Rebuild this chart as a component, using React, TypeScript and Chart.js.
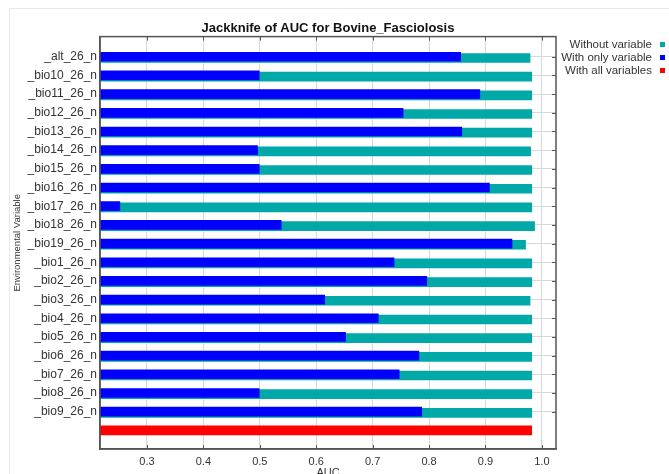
import React, { useEffect, useRef } from "react";
import { Chart, registerables } from "chart.js";

Chart.register(...registerables);

const categories = [
  "_alt_26_n", "_bio10_26_n", "_bio11_26_n", "_bio12_26_n", "_bio13_26_n",
  "_bio14_26_n", "_bio15_26_n", "_bio16_26_n", "_bio17_26_n", "_bio18_26_n",
  "_bio19_26_n", "_bio1_26_n", "_bio2_26_n", "_bio3_26_n", "_bio4_26_n",
  "_bio5_26_n", "_bio6_26_n", "_bio7_26_n", "_bio8_26_n", "_bio9_26_n",
];
const withoutVariable = [
  0.979, 0.982, 0.982, 0.982, 0.982, 0.980, 0.982, 0.982, 0.982, 0.987,
  0.971, 0.982, 0.982, 0.979, 0.982, 0.982, 0.982, 0.982, 0.982, 0.982,
];
const withOnlyVariable = [
  0.856, 0.499, 0.890, 0.754, 0.858, 0.496, 0.499, 0.907, 0.252, 0.538,
  0.947, 0.738, 0.796, 0.615, 0.710, 0.652, 0.782, 0.747, 0.499, 0.787,
];
const withAllVariables = 0.982;
const xTicks = [0.3, 0.4, 0.5, 0.6, 0.7, 0.8, 0.9, 1.0];
const legendItems = [
  { label: "Without variable", color: "#00A8A8" },
  { label: "With only variable", color: "#0000FF" },
  { label: "With all variables", color: "#FF0000" },
];

const FONT = "'Liberation Sans', Arial, sans-serif";

export default function App() {
  const ref = useRef<HTMLCanvasElement | null>(null);
  useEffect(() => {
    if (!ref.current) return;
    const shiftPlugin = {
      id: "shift",
      beforeDatasetDraw(chart: any, args: any) {
        chart.ctx.save();
        if (args.index === 2) chart.ctx.translate(0, 1.2);
      },
      afterDatasetDraw(chart: any) {
        chart.ctx.restore();
      },
    };
    const decor = {
      id: "decor",
      afterDraw(chart: any) {
        const { ctx, chartArea } = chart;
        const { left, right, top, bottom } = chartArea;
        ctx.save();
        // faint outer frame
        ctx.strokeStyle = "#e8e8e8";
        ctx.lineWidth = 1;
        ctx.beginPath();
        ctx.moveTo(9.5, 490);
        ctx.lineTo(9.5, 8.5);
        ctx.lineTo(669, 8.5);
        ctx.stroke();
        // plot border
        ctx.strokeStyle = "#555";
        ctx.lineWidth = 1.5;
        ctx.strokeRect(left, top, right - left, bottom - top);
        // inner tick marks
        ctx.lineWidth = 1;
        const xs = chart.scales.x;
        ctx.beginPath();
        xTicks.forEach((v) => {
          const px = Math.round(xs.getPixelForValue(v)) + 0.5;
          ctx.moveTo(px, top);
          ctx.lineTo(px, top + 4);
          ctx.moveTo(px, bottom);
          ctx.lineTo(px, bottom - 4);
        });
        const ys = chart.scales.y;
        categories.forEach((_, i) => {
          const py = Math.round(ys.getPixelForValue(i + 1)) + 0.5;
          ctx.moveTo(right, py);
          ctx.lineTo(right - 4, py);
        });
        ctx.stroke();
        // legend
        ctx.font = `11.5px ${FONT}`;
        ctx.textAlign = "right";
        ctx.textBaseline = "middle";
        legendItems.forEach((it, i) => {
          const y = 45 + i * 13;
          ctx.fillStyle = "#333";
          ctx.fillText(it.label, 652, y);
          ctx.fillStyle = it.color;
          ctx.fillRect(660, y - 3, 5, 5);
        });
        ctx.restore();
      },
    };
    const chart = new Chart(ref.current, {
      type: "bar",
      data: {
        datasets: [
          {
            label: "With only variable",
            data: withOnlyVariable.map((v, i) => ({ x: v, y: i + 1 })),
            backgroundColor: "#0000FF",
            barThickness: 9,
          },
          {
            label: "With all variables",
            data: [{ x: withAllVariables, y: categories.length + 1 }],
            backgroundColor: "#FF0000",
            barThickness: 9,
          },
          {
            label: "Without variable",
            data: withoutVariable.map((v, i) => ({ x: v, y: i + 1 })),
            backgroundColor: "#00A8A8",
            barThickness: 9,
          },
        ],
      },
      options: {
        indexAxis: "y",
        responsive: false,
        animation: false,
        layout: { padding: { left: 0, right: 113, top: 0, bottom: 0 } },
        datasets: { bar: { grouped: false } },
        plugins: {
          legend: { display: false },
          tooltip: { enabled: false },
          title: {
            display: true,
            fullSize: false,
            text: "Jackknife of AUC for Bovine_Fasciolosis",
            color: "#111",
            font: { family: FONT, size: 13, weight: "bold" },
            padding: { top: 21, bottom: 0 },
          },
        },
        scales: {
          x: {
            type: "linear",
            min: 0.2168,
            max: 1.025,
            afterFit(s: any) {
              s.height = 41;
            },
            afterBuildTicks(s: any) {
              s.ticks = xTicks.map((v) => ({ value: v }));
            },
            ticks: {
              padding: 6,
              color: "#333",
              font: { family: FONT, size: 11 },
              callback: (v: any) => Number(v).toFixed(1),
            },
            grid: { color: "#d8d8d8", drawTicks: false },
            border: { color: "#555", width: 1.5 },
            title: {
              display: true,
              text: "AUC",
              color: "#333",
              font: { family: FONT, size: 11 },
              padding: { top: 0, bottom: 10 },
            },
          },
          y: {
            type: "linear",
            reverse: true,
            offset: false,
            min: -0.08,
            max: 22,
            afterFit(s: any) {
              s.width = 100;
            },
            afterBuildTicks(s: any) {
              s.ticks = categories.map((_, i) => ({ value: i + 1 }));
            },
            ticks: {
              padding: 3,
              color: "#333",
              font: { family: FONT, size: 12 },
              callback: (_v: any, i: number) => categories[i],
            },
            grid: { color: "#d8d8d8", drawTicks: false, offset: false },
            border: { color: "#555", width: 1.5 },
            title: {
              display: true,
              text: "Environmental Variable",
              color: "#333",
              font: { family: FONT, size: 9.5 },
              padding: { top: 12, bottom: 0 },
            },
          },
        },
      },
      plugins: [shiftPlugin, decor],
    } as any);
    return () => chart.destroy();
  }, []);
  return (
    <div style={{ position: "fixed", left: 0, top: 0, width: 669, height: 490, background: "#fff" }}>
      <canvas ref={ref} width={669} height={490} style={{ display: "block" }} />
    </div>
  );
}
